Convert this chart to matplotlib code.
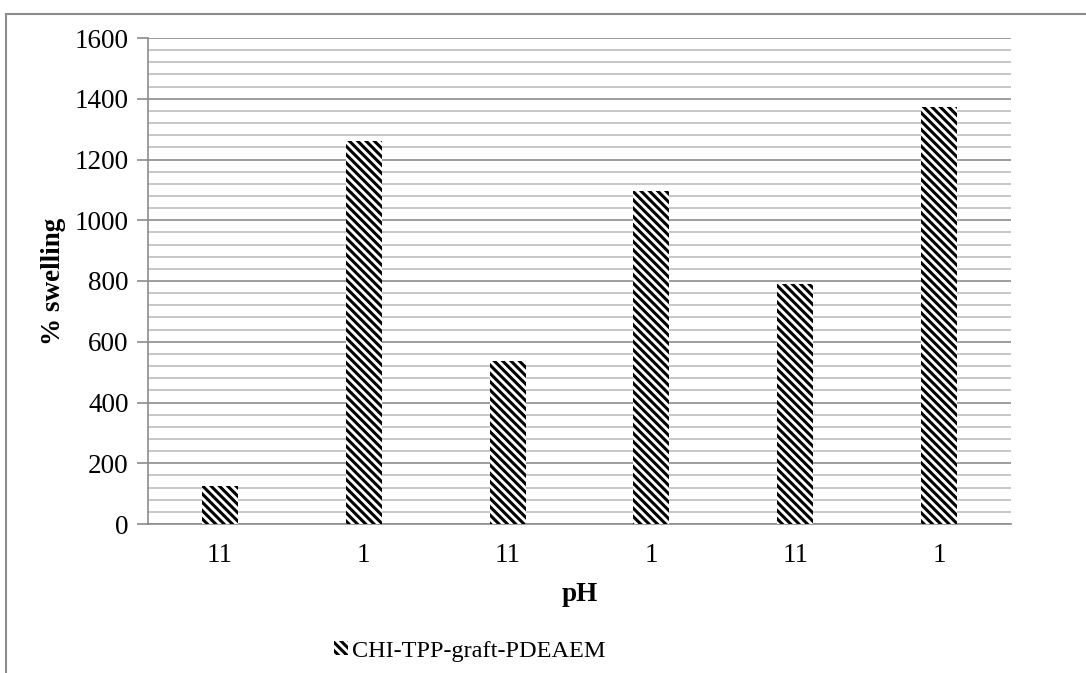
import matplotlib.pyplot as plt
from matplotlib.patches import Rectangle
from matplotlib.ticker import MultipleLocator

ph_labels = ["11", "1", "11", "1", "11", "1"]
swelling = [125, 1262, 535, 1095, 790, 1374]
series_name = "CHI-TPP-graft-PDEAEM"

plt.rcParams['font.family'] = ['Liberation Serif', 'DejaVu Serif']
plt.rcParams['hatch.linewidth'] = 2.2
plt.rcParams['hatch.color'] = 'black'

W, H = 1086, 673
fig = plt.figure(figsize=(W / 100, H / 100), dpi=100)
ax = fig.add_axes([148 / W, 1 - 524 / H, (1011 - 148) / W, (524 - 38) / H])

# outer chart frame (only left and top visible in the picture)
fig.add_artist(Rectangle((6 / W, -0.1), 1.2, 1 - 14 / H + 0.1, transform=fig.transFigure,
                         fill=False, edgecolor='#8c8c8c', lw=1.5))

x = list(range(len(swelling)))
ax.bar(x, swelling, width=0.25, color='white', edgecolor='black', linewidth=0,
       hatch='\\\\\\\\', label=series_name, zorder=3)

ax.set_xlim(-0.5, len(swelling) - 0.5)
ax.set_ylim(0, 1600)
ax.yaxis.set_major_locator(MultipleLocator(200))
ax.yaxis.set_minor_locator(MultipleLocator(40))
ax.grid(which='major', axis='y', color='#8c8c8c', lw=1.2, zorder=0)
ax.grid(which='minor', axis='y', color='#bdbdbd', lw=1.2, zorder=0)
ax.set_axisbelow(True)

ax.set_xticks(x)
ax.set_xticklabels(ph_labels)
ax.tick_params(axis='x', length=0, pad=14, labelsize=19.5)
ax.tick_params(axis='y', which='major', length=8, width=1.2, color='#8c8c8c',
               direction='out', pad=6, labelsize=19.5)
ax.tick_params(axis='y', which='minor', length=0)

for s in ['top', 'right']:
    ax.spines[s].set_visible(False)
for s in ['left', 'bottom']:
    ax.spines[s].set_color('#8c8c8c')
    ax.spines[s].set_linewidth(1.2)

ax.set_xlabel("pH", fontsize=19.5, fontweight='bold', labelpad=10)
ax.set_ylabel("% swelling", fontsize=19.5, fontweight='bold', labelpad=6)

fig.legend(loc='center', bbox_to_anchor=(470 / W, 1 - 651 / H), frameon=False,
           fontsize=17.5, handlelength=0.55, handleheight=0.55, handletextpad=0.2)

fig.savefig("out.png", dpi=100)
